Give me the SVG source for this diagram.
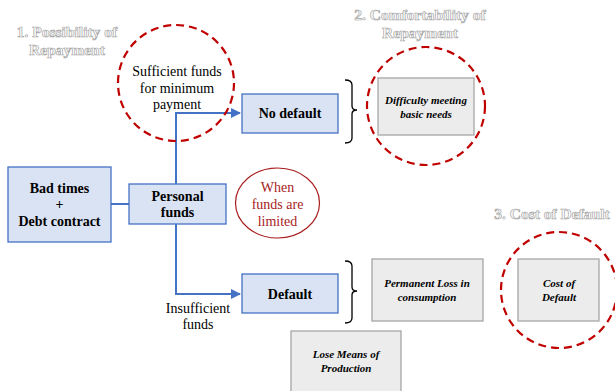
<svg xmlns="http://www.w3.org/2000/svg" width="615" height="391" viewBox="0 0 615 391">
  <style>
    text { font-family: 'Liberation Serif', 'DejaVu Serif', serif; }
    .title { font-weight: bold; font-size: 15.5px; fill: #ffffff; stroke: #a6a6a6; stroke-width: 0.7; text-anchor: middle; }
    .blue { fill: #dae3f3; stroke: #4472c4; stroke-width: 1.3; }
    .gray { fill: #ececec; stroke: #a6a6a6; stroke-width: 1.3; }
    .bold { font-weight: bold; font-size: 14px; fill: #000; text-anchor: middle; }
    .bi { font-weight: bold; font-style: italic; font-size: 11px; fill: #000; text-anchor: middle; }
    .plain { font-size: 14px; fill: #000; text-anchor: middle; }
    .red { font-size: 14px; fill: #a81c1c; text-anchor: middle; }
    .dash { fill: none; stroke: #c00000; stroke-width: 2.2; stroke-dasharray: 8 5; }
    .link { fill: none; stroke: #4472c4; stroke-width: 2; }
    .brace { fill: none; stroke: #000; stroke-width: 1.3; }
  </style>
  <defs>
    <marker id="arrow" markerWidth="10" markerHeight="10" refX="9" refY="5" orient="auto" markerUnits="userSpaceOnUse">
      <path d="M0,0 L10,5 L0,10 Z" fill="#4472c4"/>
    </marker>
  </defs>

  <rect width="615" height="391" fill="#ffffff"/>

  <!-- section headings -->
  <g id="heading-1">
    <text class="title" x="67" y="37">1. Possibility of</text>
    <text class="title" x="67" y="55">Repayment</text>
  </g>
  <g id="heading-2">
    <text class="title" x="420" y="20">2. Comfortability of</text>
    <text class="title" x="420" y="38">Repayment</text>
  </g>
  <g id="heading-3">
    <text class="title" x="552" y="219">3. Cost of Default</text>
  </g>

  <!-- connectors -->
  <g id="connectors">
    <line class="link" x1="111" y1="204" x2="129" y2="204"/>
    <path class="link" d="M176,184 V113 H240" marker-end="url(#arrow)"/>
    <path class="link" d="M176,224 V294 H240" marker-end="url(#arrow)"/>
    <path class="brace" d="M345,80 Q352,80 352,85 V106 Q352,110 357,110 Q352,110 352,114 V138 Q352,143 345,143"/>
    <path class="brace" d="M345,261 Q352,261 352,266 V287 Q352,291 357,291 Q352,291 352,295 V318 Q352,323 345,323"/>
  </g>

  <g id="bad-times">
    <rect class="blue" x="8" y="167" width="103" height="75"/>
    <text class="bold" x="59.5" y="193">Bad times</text>
    <text class="bold" x="59.5" y="209">+</text>
    <text class="bold" x="59.5" y="226">Debt contract</text>
  </g>

  <g id="personal-funds">
    <rect class="blue" x="129" y="184" width="97" height="40"/>
    <text class="bold" x="177.5" y="201">Personal</text>
    <text class="bold" x="177.5" y="217">funds</text>
  </g>

  <g id="sufficient">
    <circle class="dash" cx="176" cy="83" r="58"/>
    <text class="plain" x="177" y="76">Sufficient funds</text>
    <text class="plain" x="177" y="93">for minimum</text>
    <text class="plain" x="177" y="109">payment</text>
  </g>

  <g id="no-default">
    <rect class="blue" x="242" y="94" width="96" height="39"/>
    <text class="bold" x="290" y="118">No default</text>
  </g>

  <g id="default">
    <rect class="blue" x="242" y="274" width="96" height="39"/>
    <text class="bold" x="290" y="299">Default</text>
  </g>

  <g id="insufficient">
    <text class="plain" x="198" y="313">Insufficient</text>
    <text class="plain" x="198" y="329">funds</text>
  </g>

  <g id="limited">
    <ellipse cx="277.5" cy="203" rx="42" ry="35" fill="none" stroke="#a81c1c" stroke-width="1.2"/>
    <text class="red" x="277.5" y="192">When</text>
    <text class="red" x="277.5" y="209">funds are</text>
    <text class="red" x="277.5" y="226">limited</text>
  </g>

  <g id="difficulty">
    <rect class="gray" x="378" y="78" width="96" height="57"/>
    <circle class="dash" cx="426" cy="106" r="59"/>
    <text class="bi" x="426" y="104">Difficulty meeting</text>
    <text class="bi" x="426" y="118">basic needs</text>
  </g>

  <g id="permanent-loss">
    <rect class="gray" x="372" y="259" width="111" height="62"/>
    <text class="bi" x="427" y="287">Permanent Loss in</text>
    <text class="bi" x="427" y="301">consumption</text>
  </g>

  <g id="cost-of-default">
    <rect class="gray" x="518" y="259" width="81" height="62"/>
    <circle class="dash" cx="559" cy="290" r="58"/>
    <text class="bi" x="559" y="287">Cost of</text>
    <text class="bi" x="559" y="301">Default</text>
  </g>

  <g id="means-of-production">
    <rect class="gray" x="291" y="331" width="110" height="65"/>
    <text class="bi" x="346" y="358">Lose Means of</text>
    <text class="bi" x="346" y="372">Production</text>
  </g>
</svg>
